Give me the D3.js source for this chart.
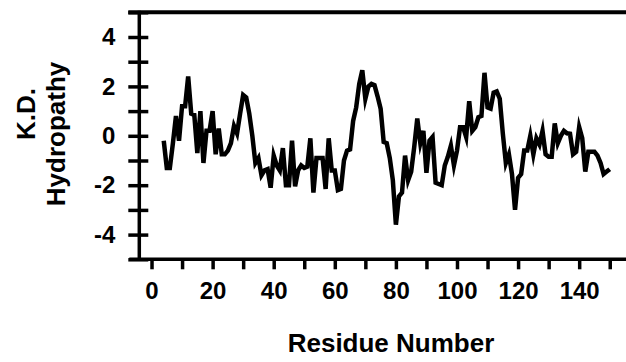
<!DOCTYPE html>
<html>
<head>
<meta charset="utf-8">
<script src="https://cdn.jsdelivr.net/npm/d3@7"></script>
<style>
  body { margin: 0; background: #fff; }
  svg { display: block; }
  text { font-family: "Liberation Sans", Arial, sans-serif; font-weight: bold; fill: #000; }
</style>
</head>
<body>
<svg id="chart" width="626" height="362"></svg>
<script>
// -------------- DATA ----------------- //
const firstResidue = 4;
// Kyte-Doolittle hydropathy, one value per residue (4 .. 150)
const hydropathy = [
  -0.2, -1.3, -1.3, -0.3, 0.8, -0.2,                          // 4-9
  1.2, 1.2, 2.4, 0.9, 0.85, -0.7, 1.0, -1.1, 0.2, 0.2,        // 10-19
  1.0, -0.75, 0.3, -0.75, -0.75, -0.6, -0.3, 0.4, 0.1, 0.9,   // 20-29
  1.65, 1.55, 0.9, 0.0, -1.1, -0.9, -1.6, -1.4, -1.35, -2.1,  // 30-39
  -0.8, -1.2, -1.4, -0.5, -2.0, -2.0, -0.2, -2.05, -1.4, -1.2, // 40-49
  -1.3, -1.25, -0.1, -2.3, -0.9, -0.9, -0.9, -2.15, -0.1, -1.4, // 50-59
  -1.4, -2.2, -2.15, -1.0, -0.6, -0.55, 0.6, 1.15, 2.1, 2.65,  // 60-69
  1.5, 2.0, 2.1, 2.05, 1.6, 1.1, -0.25, -0.3, -0.9, -1.8,      // 70-79
  -3.6, -2.45, -2.3, -0.8, -1.8, -1.45, -0.45, 0.7, -0.3, 0.2, // 80-89
  -1.5, -0.2, -0.05, -1.9, -1.95, -2.0, -1.2, -0.85, -0.4, -1.2, // 90-99
  -0.6, 0.35, 0.35, -0.05, 1.4, 0.2, 0.35, 0.75, 0.8, 2.55,    // 100-109
  1.15, 1.1, 1.75, 1.8, 1.5, 0.1, -1.1, -0.75, -1.55, -3.0,    // 110-119
  -1.7, -1.55, -0.6, -0.6, 0.0, -0.75, -0.1, -0.35, 0.2, -0.75, // 120-129
  -0.85, -0.85, 0.5, -0.3, 0.0, 0.2, 0.1, 0.08, -0.75, -0.65,  // 130-139
  0.35, -0.1, -1.45, -0.65, -0.65, -0.65, -0.8, -1.1, -1.55, -1.45, // 140-149
  -1.35                                                        // 150
];
const xTicks = [0, 10, 20, 30, 40, 50, 60, 70, 80, 90, 100, 110, 120, 130, 140, 150];
const xLabels = [0, 20, 40, 60, 80, 100, 120, 140];
const yTicks = [-5, -4, -3, -2, -1, 0, 1, 2, 3, 4, 5];
const yLabels = [-4, -2, 0, 2, 4];

// -------------- SETUP ----------------- //
const svg = d3.select("#chart");

const x = d3.scaleLinear().domain([-4, 155]).range([139.3, 625]);
const y = d3.scaleLinear().domain([-5, 5]).range([259.3, 12.3]);

const points = hydropathy.map((v, i) => ({ residue: firstResidue + i, value: v }));

// -------------- AXES ----------------- //
const xAxis = svg.append("g")
    .attr("transform", `translate(0, ${y(-5)})`)
    .call(d3.axisBottom(x)
        .tickValues(xTicks)
        .tickSizeOuter(0)
        .tickSize(10)
        .tickPadding(13)
        .tickFormat(d => xLabels.includes(d) ? d : ""));
xAxis.select(".domain").attr("stroke", "#000").attr("stroke-width", 3.5)
    .attr("d", `M${x(-4) - 10},0H626`);
xAxis.selectAll(".tick line").attr("stroke", "#000").attr("stroke-width", 3.5);
xAxis.selectAll(".tick text")
    .attr("font-size", 24)
    .attr("font-family", "Liberation Sans, Arial, sans-serif")
    .attr("font-weight", "bold")
    .attr("fill", "#000");

const yAxis = svg.append("g")
    .attr("transform", `translate(${x(-4)}, 0)`)
    .call(d3.axisLeft(y)
        .tickValues(yTicks)
        .tickSizeOuter(0)
        .tickSize(11)
        .tickPadding(13)
        .tickFormat(d => yLabels.includes(d) ? d : ""));
yAxis.select(".domain").attr("stroke", "#000").attr("stroke-width", 3.5)
    .attr("d", `M0,${y(5) - 1.5}V${y(-5)}`);
yAxis.selectAll(".tick line")
    .attr("stroke", "#000").attr("stroke-width", 3.5)
    .attr("x1", -11).attr("x2", 9);
yAxis.selectAll(".tick text")
    .attr("font-size", 24)
    .attr("font-family", "Liberation Sans, Arial, sans-serif")
    .attr("font-weight", "bold")
    .attr("fill", "#000");

// top frame line
svg.append("line")
    .attr("x1", x(-4) - 11).attr("x2", 626)
    .attr("y1", y(5)).attr("y2", y(5))
    .attr("stroke", "#000").attr("stroke-width", 4);

// -------------- LINE ----------------- //
const line = d3.line()
    .x(d => x(d.residue))
    .y(d => y(d.value));

svg.append("path")
    .datum(points)
    .attr("d", line)
    .attr("fill", "none")
    .attr("stroke", "#000")
    .attr("stroke-width", 4.5)
    .attr("stroke-linejoin", "miter")
    .attr("stroke-miterlimit", 6);

// -------------- TITLES ----------------- //
svg.append("text")
    .attr("transform", "translate(35, 114) rotate(-90)")
    .attr("text-anchor", "middle")
    .attr("font-size", 26)
    .text("K.D.");

svg.append("text")
    .attr("transform", "translate(65, 134) rotate(-90)")
    .attr("text-anchor", "middle")
    .attr("font-size", 26)
    .text("Hydropathy");

svg.append("text")
    .attr("x", 391)
    .attr("y", 352)
    .attr("text-anchor", "middle")
    .attr("font-size", 26)
    .text("Residue Number");
</script>
</body>
</html>
